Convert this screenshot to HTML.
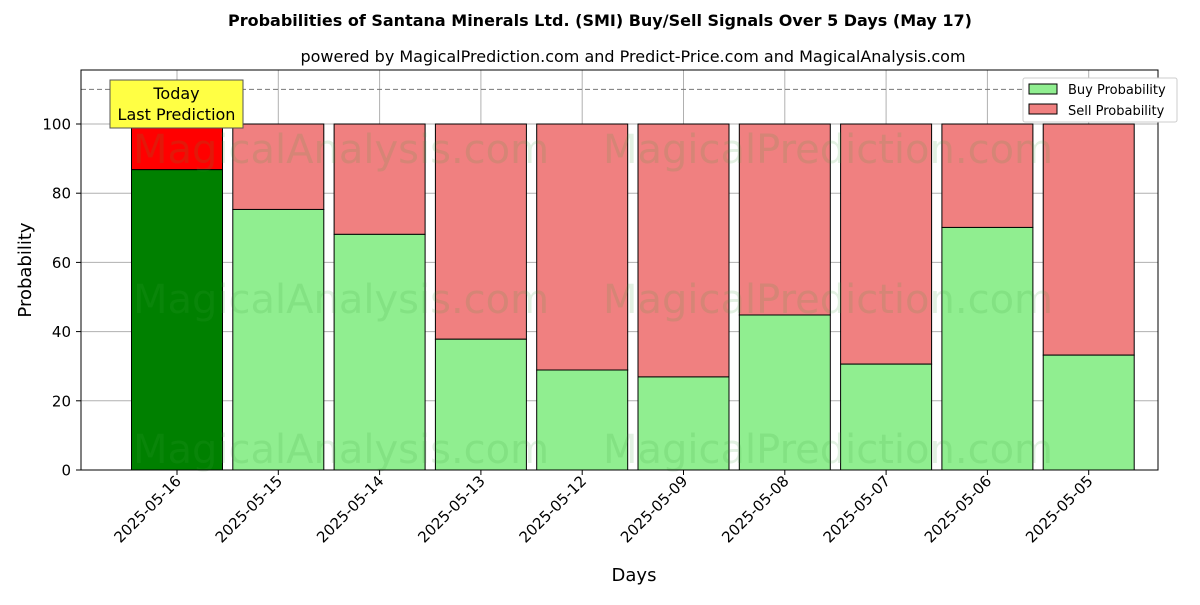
<!DOCTYPE html>
<html><head><meta charset="utf-8"><style>
body{margin:0;background:#fff;font-family:"Liberation Sans","DejaVu Sans",sans-serif;}
svg text{font-family:"DejaVu Sans","Liberation Sans",sans-serif;}
</style></head><body>
<svg id="chart" width="1200" height="600" xmlns="http://www.w3.org/2000/svg">
<text x="600" y="26" text-anchor="middle" font-size="16" font-weight="bold">Probabilities of Santana Minerals Ltd. (SMI) Buy/Sell Signals Over 5 Days (May 17)</text>
<text x="633" y="62" text-anchor="middle" font-size="16">powered by MagicalPrediction.com and Predict-Price.com and MagicalAnalysis.com</text>
<g id="grid"></g>
<g id="bars"></g>
<g id="wm" fill="rgba(60,160,60,0.15)" font-size="40">
<text x="133" y="163">MagicalAnalysis.com</text><text x="603" y="163">MagicalPrediction.com</text>
<text x="133" y="313">MagicalAnalysis.com</text><text x="603" y="313">MagicalPrediction.com</text>
<text x="133" y="463">MagicalAnalysis.com</text><text x="603" y="463">MagicalPrediction.com</text>
</g>
<line x1="81" x2="1158" y1="89.4" y2="89.4" stroke="#777" stroke-dasharray="5,3"/>
<rect x="81" y="70" width="1077" height="400" fill="none" stroke="#000"/>
<g id="axes"></g>
<g>
<rect x="110" y="80" width="133" height="48" fill="#ffff44" stroke="#555"/>
<text x="176.5" y="99" text-anchor="middle" font-size="16">Today</text>
<text x="176.5" y="120" text-anchor="middle" font-size="16">Last Prediction</text>
</g>
<g>
<rect x="1023" y="78" width="154" height="44" fill="#fff" stroke="#ccc" rx="2"/>
<rect x="1029" y="84" width="28" height="10" fill="#90ee90" stroke="#000"/>
<text x="1068" y="94" font-size="13">Buy Probability</text>
<rect x="1029" y="104" width="28" height="10" fill="#f08080" stroke="#000"/>
<text x="1068" y="115" font-size="13">Sell Probability</text>
</g>
<text x="634" y="581" text-anchor="middle" font-size="18">Days</text>
<text transform="translate(31,270) rotate(-90)" text-anchor="middle" font-size="18">Probability</text>
</svg>
<script>
const categories=["2025-05-16","2025-05-15","2025-05-14","2025-05-13","2025-05-12","2025-05-09","2025-05-08","2025-05-07","2025-05-06","2025-05-05"];
const buyValues=[86.8,75.3,68.1,37.8,28.9,26.9,44.8,30.6,70.1,33.2];
const yTicks=[0,20,40,60,80,100];
const NS="http://www.w3.org/2000/svg";
const x=i=>177+i*101.3;
const y=v=>470-v*3.46;
function mk(p,t,a){const e=document.createElementNS(NS,t);for(const k in a)e.setAttribute(k,a[k]);p.appendChild(e);return e;}
const grid=document.getElementById('grid'),bars=document.getElementById('bars'),axes=document.getElementById('axes');
categories.forEach((c,i)=>{
 const g=mk(grid,'line',{x1:x(i),x2:x(i),y1:70,y2:470,stroke:'#b0b0b0'});
 
 
 const b=buyValues[i],s=100-b;
 const sr=mk(bars,'rect',{x:x(i)-45.5,y:y(100),width:91,height:y(b)-y(100),fill:i==0?'#ff0000':'#f08080',stroke:'#000'});
 
 
 const br=mk(bars,'rect',{x:x(i)-45.5,y:y(b),width:91,height:470-y(b),fill:i==0?'#008000':'#90ee90',stroke:'#000'});
 
 
 mk(axes,'line',{x1:x(i),x2:x(i),y1:470,y2:475,stroke:'#000'});
 const t=mk(axes,'text',{transform:`translate(${x(i)+5},${482}) rotate(-45)`,'text-anchor':'end','font-size':'15'});
 t.textContent=c;
 
 
});
yTicks.forEach(v=>{
 const g=mk(grid,'line',{x1:81,x2:1158,y1:y(v),y2:y(v),stroke:'#b0b0b0'});
 
 
 mk(axes,'line',{x1:76,x2:81,y1:y(v),y2:y(v),stroke:'#000'});
 const t=mk(axes,'text',{x:71,y:y(v)+5.5,'text-anchor':'end','font-size':'15'});
 t.textContent=v;
 
 
});
</script>
</body></html>
